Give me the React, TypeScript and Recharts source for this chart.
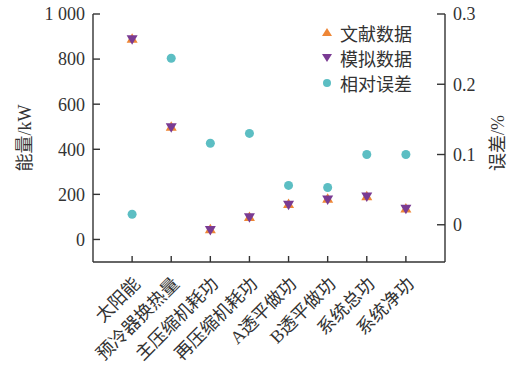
import { ScatterChart, Scatter, XAxis, YAxis, Legend } from 'recharts';

const categories = ['太阳能', '预冷器换热量', '主压缩机耗功', '再压缩机耗功', 'A透平做功', 'B透平做功', '系统总功', '系统净功'];
const literature = [890, 500, 45, 100, 157, 180, 192, 137];
const simulation = [888, 498, 42, 99, 154, 177, 190, 136];
const relError = [0.015, 0.237, 0.116, 0.13, 0.056, 0.053, 0.1, 0.1];

const leftTicks = [0, 200, 400, 600, 800, 1000];
const rightTicks = [0, 0.1, 0.2, 0.3];

const ORANGE = '#ee8636';
const PURPLE = '#7a3b93';
const TEAL = '#5cbec3';
const INK = '#333';
const FONT = "'Liberation Serif', 'Times New Roman', 'Noto Sans CJK SC', serif";

const litPts = categories.map((c, i) => ({ x: i, y: literature[i], name: c }));
const simPts = categories.map((c, i) => ({ x: i, y: simulation[i], name: c }));
const errPts = categories.map((c, i) => ({ x: i, y: relError[i], name: c }));

// eslint-disable-next-line @typescript-eslint/no-explicit-any
const UpTri = ({ cx, cy }: any) => (
  <path d={`M${cx},${cy - 5.5} L${cx + 5.5},${cy + 4} L${cx - 5.5},${cy + 4} Z`} fill={ORANGE} />
);
// eslint-disable-next-line @typescript-eslint/no-explicit-any
const DownTri = ({ cx, cy }: any) => (
  <path d={`M${cx},${cy + 5.5} L${cx + 5.5},${cy - 4} L${cx - 5.5},${cy - 4} Z`} fill={PURPLE} />
);
// eslint-disable-next-line @typescript-eslint/no-explicit-any
const Dot = ({ cx, cy }: any) => <circle cx={cx} cy={cy} r={4.5} fill={TEAL} />;

// eslint-disable-next-line @typescript-eslint/no-explicit-any
function CatTick({ x, y, payload }: any) {
  const ax = x + 9;
  return (
    <text
      x={ax} y={y} textAnchor="end" fill={INK} fontSize={18} fontFamily={FONT}
      transform={`rotate(-45 ${ax} ${y})`}
    >
      {categories[payload.value]}
    </text>
  );
}

const legendItems = [
  { label: '文献数据', icon: <path d="M7,2 L12,10 L2,10 Z" fill={ORANGE} /> },
  { label: '模拟数据', icon: <path d="M7,11 L12,3 L2,3 Z" fill={PURPLE} /> },
  { label: '相对误差', icon: <circle cx={7} cy={7} r={4} fill={TEAL} /> },
];

function LegendBox() {
  return (
    <div style={{ fontFamily: FONT, fontSize: 18, color: INK }}>
      {legendItems.map((it) => (
        <div key={it.label} style={{ display: 'flex', alignItems: 'center', height: 25 }}>
          <svg width={14} height={14} style={{ marginRight: 6 }}>{it.icon}</svg>
          <span>{it.label}</span>
        </div>
      ))}
    </div>
  );
}

const axisTick = { fill: INK, fontSize: 18, fontFamily: FONT };

export default function App() {
  return (
    <div style={{ position: 'absolute', left: 0, top: 0, width: 508, height: 365, background: '#fff' }}>
      <ScatterChart width={508} height={365} margin={{ top: 14, right: 0, bottom: 0, left: 0 }}>
        <XAxis
          type="number" dataKey="x" domain={[-1, 8]} ticks={[0, 1, 2, 3, 4, 5, 6, 7]}
          interval={0} height={103} tickSize={-6} tickMargin={29}
          axisLine={{ stroke: INK, strokeWidth: 1.4 }} tickLine={{ stroke: INK, strokeWidth: 1.4 }}
          tick={<CatTick />}
        />
        <YAxis
          yAxisId="left" type="number" dataKey="y" domain={[-100, 1000]} ticks={leftTicks}
          width={93} tickSize={-7} tickMargin={15}
          tickFormatter={(v: number) => (v === 1000 ? '1 000' : String(v))}
          axisLine={{ stroke: INK, strokeWidth: 1.4 }} tickLine={{ stroke: INK, strokeWidth: 1.4 }}
          tick={axisTick}
          label={{
            content: () => (
              <text x={25} y={138} transform="rotate(-90 25 138)" textAnchor="middle"
                dominantBaseline="central" fill={INK} fontSize={18} fontFamily={FONT}>
                能量/kW
              </text>
            ),
          }}
        />
        <YAxis
          yAxisId="right" orientation="right" type="number" dataKey="y" domain={[-0.053, 0.3]} ticks={rightTicks}
          width={63} tickSize={-8} tickMargin={16}
          tickFormatter={(v: number) => String(v)}
          axisLine={{ stroke: INK, strokeWidth: 1.4 }} tickLine={{ stroke: INK, strokeWidth: 1.4 }}
          tick={axisTick}
          label={{
            content: () => (
              <text x={498} y={143} transform="rotate(-90 498 143)" textAnchor="middle"
                dominantBaseline="central" fill={INK} fontSize={18} fontFamily={FONT}>
                误差/%
              </text>
            ),
          }}
        />
        <Legend
          layout="vertical" align="center" verticalAlign="middle"
          content={() => <LegendBox />}
          wrapperStyle={{ left: 320, top: 20, width: 'auto' }}
        />
        <Scatter name="相对误差" data={errPts} yAxisId="right" shape={Dot} isAnimationActive={false} />
        <Scatter name="文献数据" data={litPts} yAxisId="left" shape={UpTri} isAnimationActive={false} />
        <Scatter name="模拟数据" data={simPts} yAxisId="left" shape={DownTri} isAnimationActive={false} />
      </ScatterChart>
    </div>
  );
}
